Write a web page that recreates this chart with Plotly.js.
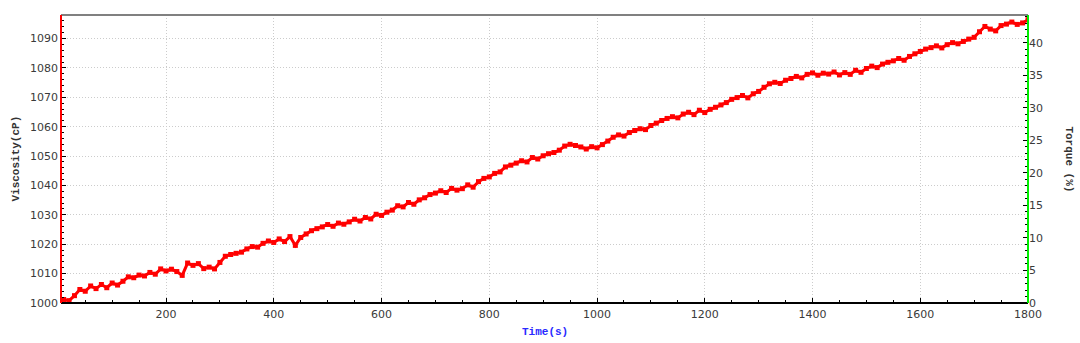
<!DOCTYPE html>
<html>
<head>
<meta charset="utf-8">
<script src="https://cdn.plot.ly/plotly-3.0.1.min.js"></script>
<style>html,body{margin:0;padding:0;background:#fff;}#chart{width:1080px;height:343px;}</style>
</head>
<body>
<div id="chart"></div>
<script>
// Time (s)
const time = [0,10,20,30,40,50,60,70,80,90,100,110,120,130,140,150,160,170,180,190,
200,210,220,230,240,250,260,270,280,290,300,310,320,330,340,350,360,370,380,390,
400,410,420,430,440,450,460,470,480,490,500,510,520,530,540,550,560,570,580,590,
600,610,620,630,640,650,660,670,680,690,700,710,720,730,740,750,760,770,780,790,
800,810,820,830,840,850,860,870,880,890,900,910,920,930,940,950,960,970,980,990,
1000,1010,1020,1030,1040,1050,1060,1070,1080,1090,1100,1110,1120,1130,1140,1150,1160,1170,1180,1190,
1200,1210,1220,1230,1240,1250,1260,1270,1280,1290,1300,1310,1320,1330,1340,1350,1360,1370,1380,1390,
1400,1410,1420,1430,1440,1450,1460,1470,1480,1490,1500,1510,1520,1530,1540,1550,1560,1570,1580,1590,
1600,1610,1620,1630,1640,1650,1660,1670,1680,1690,1700,1710,1720,1730,1740,1750,1760,1770,1780,1790,1800];
// Viscosity (cP)
const viscosity = [1000.6,1001.2,1000.8,1002.5,1004.6,1004.0,1005.8,1004.9,1006.3,1005.2,
1006.8,1006.1,1007.4,1008.9,1008.6,1009.5,1009.2,1010.4,1009.8,1011.6,
1010.9,1011.5,1010.7,1009.4,1013.6,1012.8,1013.4,1011.7,1012.2,1011.6,
1013.8,1015.9,1016.5,1016.9,1017.3,1018.4,1019.2,1019.0,1020.3,1021.1,
1020.6,1021.8,1020.9,1022.6,1019.6,1022.3,1023.5,1024.6,1025.3,1025.9,
1026.7,1026.1,1027.2,1026.8,1027.6,1028.5,1027.9,1029.1,1028.6,1030.2,
1029.8,1030.9,1031.6,1033.1,1032.7,1034.2,1033.6,1035.1,1035.8,1036.9,
1037.4,1038.2,1037.6,1039.0,1038.4,1038.9,1040.2,1039.4,1041.3,1042.4,
1042.9,1044.1,1044.6,1046.3,1046.9,1047.6,1048.4,1048.0,1049.5,1049.0,
1050.1,1050.8,1051.2,1052.0,1053.4,1054.0,1053.6,1053.1,1052.4,1053.2,
1052.8,1053.9,1055.1,1056.4,1057.2,1056.8,1058.0,1058.7,1059.3,1059.0,
1060.4,1061.2,1062.1,1062.8,1063.4,1063.0,1064.3,1064.9,1064.1,1065.6,
1064.8,1065.9,1066.6,1067.4,1068.2,1069.3,1069.9,1070.6,1069.8,1071.2,
1072.0,1073.4,1074.6,1075.1,1074.7,1075.8,1076.4,1077.1,1076.6,1077.8,
1078.3,1077.5,1078.2,1077.9,1078.6,1077.6,1078.4,1077.8,1079.2,1078.5,
1079.8,1080.6,1080.1,1081.3,1081.9,1082.4,1083.2,1082.6,1083.9,1084.8,
1085.6,1086.4,1086.9,1087.5,1086.8,1087.9,1088.6,1088.2,1089.0,1089.8,
1090.4,1092.3,1094.1,1093.2,1092.6,1094.4,1094.9,1095.6,1094.8,1095.3,1096.4];

const xTicks = [200,400,600,800,1000,1200,1400,1600,1800];
const yTicks = [1000,1010,1020,1030,1040,1050,1060,1070,1080,1090];
const y2Ticks = [0,5,10,15,20,25,30,35,40];

const tickFont = {family: 'Verdana, "DejaVu Sans", sans-serif', size: 11, color: '#3a3a3a'};
const titleFont = {family: '"Liberation Mono", "DejaVu Sans Mono", monospace', size: 11};

const traces = [
  {x: time, y: viscosity, type: 'scatter', mode: 'lines+markers',
   line: {color: '#ff0000', width: 3},
   marker: {color: '#ff0000', size: 5, symbol: 'square'},
   hoverinfo: 'skip', showlegend: false},
  {x: [], y: [], yaxis: 'y2', type: 'scatter', showlegend: false}
];

const layout = {
  width: 1080, height: 343,
  margin: {l: 61, r: 52, t: 15, b: 40},
  paper_bgcolor: '#ffffff', plot_bgcolor: '#ffffff',
  showlegend: false,
  xaxis: {
    range: [5, 1800], tickvals: xTicks, ticktext: xTicks.map(String),
    ticks: 'inside', ticklen: 5, tickcolor: '#000', tickwidth: 1,
    minor: {dtick: 50, tick0: 0, ticks: 'inside', ticklen: 3, tickcolor: '#000', showgrid: false},
    showgrid: true, gridcolor: '#cccccc', griddash: '1px,2px', gridwidth: 1,
    zeroline: false, showline: false, tickfont: tickFont, ticklabelstandoff: 3, fixedrange: true
  },
  yaxis: {
    range: [1000, 1098], tickvals: yTicks, ticktext: yTicks.map(String),
    ticks: 'inside', ticklen: 5, tickcolor: '#000', tickwidth: 1,
    minor: {dtick: 2, tick0: 1000, ticks: 'inside', ticklen: 3, tickcolor: '#000', showgrid: false},
    showgrid: true, gridcolor: '#cccccc', griddash: '1px,2px', gridwidth: 1,
    zeroline: false, showline: false, tickfont: tickFont, ticklabelstandoff: 2, fixedrange: true
  },
  yaxis2: {
    overlaying: 'y', side: 'right', range: [0, 44.3],
    tickvals: y2Ticks, ticktext: y2Ticks.map(String),
    ticks: 'inside', ticklen: 5, tickcolor: '#000', tickwidth: 1,
    minor: {dtick: 1, tick0: 0, ticks: 'inside', ticklen: 3, tickcolor: '#000', showgrid: false},
    showgrid: false, zeroline: false, showline: false, tickfont: tickFont, fixedrange: true
  },
  shapes: [
    {type: 'line', xref: 'paper', yref: 'paper', x0: 0, x1: 1, y0: 1, y1: 1, line: {color: '#808080', width: 2}},
    {type: 'line', xref: 'paper', yref: 'paper', x0: 0, x1: 1, y0: 0, y1: 0, line: {color: '#000000', width: 2}},
    {type: 'line', xref: 'paper', yref: 'paper', x0: 0, x1: 0, y0: 0, y1: 1, line: {color: '#ff0000', width: 2}},
    {type: 'line', xref: 'paper', yref: 'paper', x0: 1, x1: 1, y0: 0, y1: 1, line: {color: '#00ee00', width: 2}}
  ],
  annotations: [
    {text: '<b>Viscosity(cP)</b>', xref: 'paper', yref: 'paper', x: -0.047, y: 0.5,
     xanchor: 'center', yanchor: 'middle', textangle: -90, showarrow: false,
     font: Object.assign({}, titleFont, {color: '#333333'})},
    {text: '<b>Time(s)</b>', xref: 'paper', yref: 'paper', x: 0.5, y: -0.1,
     xanchor: 'center', yanchor: 'middle', showarrow: false,
     font: Object.assign({}, titleFont, {color: '#2a2aff'})},
    {text: '<b>Torque (%)</b>', xref: 'paper', yref: 'paper', x: 1.042, y: 0.5,
     xanchor: 'center', yanchor: 'middle', textangle: 90, showarrow: false,
     font: Object.assign({}, titleFont, {color: '#333333'})}
  ]
};

Plotly.newPlot('chart', traces, layout, {displayModeBar: false, staticPlot: true});
</script>
</body>
</html>
